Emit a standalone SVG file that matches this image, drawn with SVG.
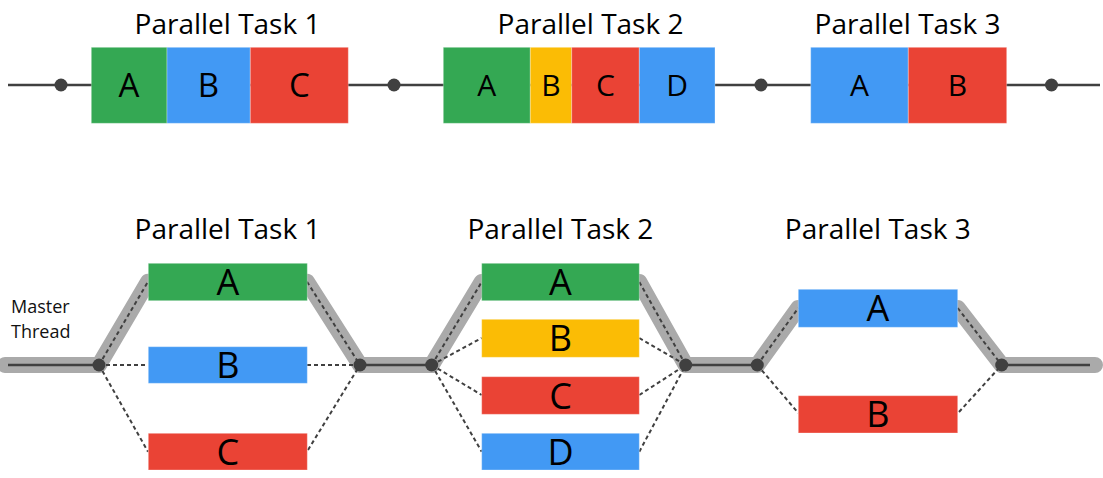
<svg xmlns="http://www.w3.org/2000/svg" width="1103" height="478" viewBox="0 0 1103 478">
<style>
.t{font-family:"Open Sans","Liberation Sans",sans-serif;fill:#000;text-anchor:middle}
.title{font-size:28px}
.l33{font-size:33px}
.l30{font-size:30px}
.l36{font-size:36px}
.mt{font-family:"Open Sans","Liberation Sans",sans-serif;font-size:18px;fill:#111}
.g{fill:#34A853}.b{fill:#4299F4}.r{fill:#EA4335}.y{fill:#FBBC05}
.box{stroke:#ffffff;stroke-opacity:0.3;stroke-width:1}
.line{stroke:#404040;stroke-width:2.5;fill:none}
.gray{stroke:#AAAAAA;stroke-width:16;fill:none;stroke-linecap:round;stroke-linejoin:round}
.dash{stroke:#404040;stroke-width:2;fill:none;stroke-dasharray:4 3}
.dot{fill:#404040}
</style>
<g id="connectors">
<line class="line" x1="8" y1="85" x2="1100" y2="85"/>
<path class="gray" d="M5 365 L99 365 L148 281.7 L307 281.7 L360 365 L431.7 365 L481.7 282 L639.3 282 L685.7 365 L757.3 365 L798.3 308 L957.7 308 L1001.7 365 L1095 365"/>
<line class="line" x1="8" y1="365" x2="99" y2="365"/>
<line class="line" x1="360" y1="365" x2="431.7" y2="365"/>
<line class="line" x1="685.7" y1="365" x2="757.3" y2="365"/>
<line class="line" x1="1001.7" y1="365" x2="1090" y2="365"/>
<path class="dash" d="M99 365 L148 281.7 M99 365 L148 365 M99 365 L148 451.7 M307 281.7 L360 365 M307 365 L360 365 M308 450 L360 365"/>
<path class="dash" d="M431.7 365 L481.7 282 M431.7 365 L481.7 338 M431.7 365 L481.7 395 M431.7 365 L481.7 451.7 M639.3 282 L685.7 365 M639.3 338 L685.7 365 M639.3 395 L685.7 365 M639.3 451.7 L685.7 365"/>
<path class="dash" d="M757.3 365 L798.3 308 M757.3 365 L798.3 413 M957.7 308 L1001.7 365 M959 412 L1001.7 365"/>
</g>
<g id="top-dots">
<circle class="dot" cx="61" cy="85" r="6.5"/>
<circle class="dot" cx="394" cy="85" r="6.5"/>
<circle class="dot" cx="761" cy="85" r="6.5"/>
<circle class="dot" cx="1051.5" cy="85" r="6.5"/>
</g>
<g id="top-task1">
<text class="t title" x="227.5" y="34">Parallel Task 1</text>
<rect class="box g" x="91.3" y="47.3" width="75.7" height="76"/>
<rect class="box b" x="167" y="47.3" width="83.3" height="76"/>
<rect class="box r" x="250.3" y="47.3" width="98" height="76"/>
<text class="t l33" x="129" y="97">A</text>
<text class="t l33" x="208.5" y="97">B</text>
<text class="t l33" x="299.5" y="97">C</text>
</g>
<g id="top-task2">
<text class="t title" x="590.5" y="34">Parallel Task 2</text>
<rect class="box g" x="443.3" y="47.3" width="87" height="76"/>
<rect class="box y" x="530.3" y="47.3" width="41.4" height="76"/>
<rect class="box r" x="571.7" y="47.3" width="67.6" height="76"/>
<rect class="box b" x="639.3" y="47.3" width="75.7" height="76"/>
<text class="t l30" x="486.8" y="96">A</text>
<text class="t l30" x="551" y="96">B</text>
<text class="t l30" x="605.5" y="96">C</text>
<text class="t l30" x="677.2" y="96">D</text>
</g>
<g id="top-task3">
<text class="t title" x="907.5" y="34">Parallel Task 3</text>
<rect class="box b" x="810.7" y="47.3" width="97.6" height="76"/>
<rect class="box r" x="908.3" y="47.3" width="98.4" height="76"/>
<text class="t l30" x="859.5" y="96">A</text>
<text class="t l30" x="957.5" y="96">B</text>
</g>
<g id="master-thread">
<text class="mt" x="11" y="313.3">Master</text>
<text class="mt" x="11" y="338.3">Thread</text>
</g>
<g id="bottom-task1">
<text class="t title" x="227.5" y="239.3">Parallel Task 1</text>
<rect class="box g" x="148.3" y="263.3" width="159" height="37.4"/>
<rect class="box b" x="148.3" y="346.7" width="159" height="36.6"/>
<rect class="box r" x="148.3" y="433.3" width="159" height="36.7"/>
<text class="t l36" x="227.8" y="295">A</text>
<text class="t l36" x="227.8" y="378">B</text>
<text class="t l36" x="227.8" y="464.5">C</text>
</g>
<g id="bottom-task2">
<text class="t title" x="560.4" y="239.3">Parallel Task 2</text>
<rect class="box g" x="481.7" y="263.3" width="157.6" height="37.4"/>
<rect class="box y" x="481.7" y="319.3" width="157.6" height="38"/>
<rect class="box r" x="481.7" y="376.7" width="157.6" height="37.6"/>
<rect class="box b" x="481.7" y="433.3" width="157.6" height="36.7"/>
<text class="t l36" x="560.5" y="295">A</text>
<text class="t l36" x="560.5" y="351">B</text>
<text class="t l36" x="560.5" y="408.5">C</text>
<text class="t l36" x="560.5" y="464.5">D</text>
</g>
<g id="bottom-task3">
<text class="t title" x="877.8" y="239.3">Parallel Task 3</text>
<rect class="box b" x="798.3" y="289.3" width="159.4" height="38"/>
<rect class="box r" x="798.3" y="395.7" width="159.4" height="37.3"/>
<text class="t l36" x="878" y="321">A</text>
<text class="t l36" x="878" y="427">B</text>
</g>
<g id="bottom-dots">
<circle class="dot" cx="99" cy="365" r="6.5"/>
<circle class="dot" cx="360" cy="365" r="6.5"/>
<circle class="dot" cx="431.7" cy="365" r="6.5"/>
<circle class="dot" cx="685.7" cy="365" r="6.5"/>
<circle class="dot" cx="757.3" cy="365" r="6.5"/>
<circle class="dot" cx="1001.7" cy="365" r="6.5"/>
</g>
</svg>
